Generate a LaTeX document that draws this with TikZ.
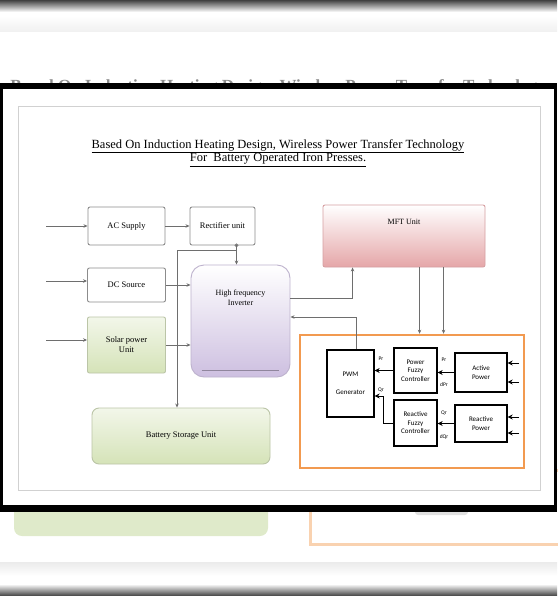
\documentclass[tikz,border=0pt]{standalone}
\usepackage{fontspec}
\setmainfont{Liberation Serif}
\newfontfamily\ctrlfont{Carlito}
\usetikzlibrary{positioning, arrows.meta, shapes.geometric}

\definecolor{linegray}{HTML}{6E6E6E}
\definecolor{boxgray}{HTML}{8C8C8C}
\definecolor{solargreen}{HTML}{D5E3B8}
\definecolor{invlilac}{HTML}{CDBFE0}
\definecolor{mftrose}{HTML}{E5A6A8}
\definecolor{ctrlorange}{HTML}{F29A50}

\tikzset{
  unit/.style={draw=boxgray, line width=0.9pt, rounded corners=2pt, fill=white,
    font=\fontsize{8.5}{10}\selectfont, align=center, inner sep=1pt},
  greenunit/.style={unit, draw=solargreen!70!gray, top color=solargreen!30, bottom color=solargreen},
  ctrl/.style={draw=black, line width=1.3pt, fill=white, font=\ctrlfont\fontsize{7}{8.5}\selectfont,
    align=center, inner sep=1pt},
  sig/.style={font=\ctrlfont\fontsize{5.5}{6.5}\selectfont, inner sep=0.5pt},
  wire/.style={draw=linegray, line width=0.8pt, -{Stealth[length=4pt,width=3.5pt]}},
  cwire/.style={draw=black, line width=1pt, -{Stealth[length=5pt,width=5pt]}},
}

\begin{document}
\begin{tikzpicture}[x=1pt, y=-1pt]
  \useasboundingbox (0,0) rectangle (557,596);

  % blurred page behind the frame
  \fill[top color=black!75, bottom color=white] (0,0) rectangle (557,12);
  \fill[top color=white, bottom color=black!6] (0,16) rectangle (557,32);
  \node[anchor=base, text=black!45, font=\fontsize{17}{20}\selectfont\bfseries] (ghosttitle) at (278,92)
    {Based On Induction Heating Design, Wireless Power Transfer Technology};
  \fill[rounded corners=8pt, solargreen!75] (14,490) rectangle (268,536);
  \draw[ctrlorange!45, line width=3pt] (310,470) rectangle (600,544);
  \fill[black!12, rounded corners=3pt] (415,508) rectangle (468,515);
  \fill[top color=black!8, bottom color=white] (0,562) rectangle (557,576);
  \fill[top color=white, bottom color=black!75] (0,584) rectangle (557,596);

  % frame
  \fill[black] (0,83) rectangle (557,512);
  \fill[white] (3,89) rectangle (554,505);
  \draw[black!18, line width=0.8pt] (18,106) rectangle (540,490);

  \node[align=center, font=\fontsize{12.5}{13.5}\selectfont] (title) at (278,153)
    {\underline{Based On Induction Heating Design, Wireless Power Transfer Technology}\\
     \underline{For\ \ Battery Operated Iron Presses.}};

  % supply side
  \node[unit, minimum width=77pt, minimum height=38pt] (ac) at (126.5,226) {AC Supply};
  \node[unit, minimum width=65pt, minimum height=38pt] (rect) at (222.5,226) {Rectifier unit};
  \node[unit, minimum width=78pt, minimum height=34pt] (dc) at (126.5,285) {DC Source};
  \node[greenunit, minimum width=78pt, minimum height=56pt] (solar) at (126.5,345) {Solar power\\Unit};
  \node[greenunit, rounded corners=7pt, minimum width=178pt, minimum height=56pt] (bat) at (181,436) {Battery Storage Unit};

  \node[draw=invlilac!80!gray, line width=0.9pt, rounded corners=13pt, top color=white, bottom color=invlilac,
    minimum width=99pt, minimum height=112pt] (inv) at (240.5,321) {};
  \node[font=\fontsize{8}{10}\selectfont, align=center] (invtxt) at (240.5,298) {High frequency\\Inverter};
  \draw[invlilac!70!black, line width=1pt] ([xshift=11pt,yshift=7pt]inv.south west) -- ([xshift=-11pt,yshift=7pt]inv.south east);

  \node[draw=mftrose!85!gray, line width=0.9pt, rounded corners=2pt, top color=white, bottom color=mftrose,
    minimum width=162pt, minimum height=62pt] (mft) at (404,236) {};
  \node[font=\fontsize{8}{10}\selectfont] (mfttxt) at (404,222) {MFT Unit};

  % control box
  \node[draw=ctrlorange, line width=2.5pt, minimum width=224pt, minimum height=133pt] (ctrlbox) at (412,401.5) {};
  \node[ctrl, minimum width=47pt, minimum height=67pt] (pwm) at (350.5,383.5) {PWM\\[9pt]Generator};
  \node[ctrl, minimum width=43pt, minimum height=45pt] (pfc) at (415.5,370.5) {Power\\Fuzzy\\Controller};
  \node[ctrl, minimum width=43pt, minimum height=46pt] (rfc) at (415.5,423) {Reactive\\Fuzzy\\Controller};
  \node[ctrl, minimum width=52pt, minimum height=39pt] (act) at (481,372.5) {Active\\Power};
  \node[ctrl, minimum width=52pt, minimum height=37pt] (react) at (481,423.5) {Reactive\\Power};

  \node[sig] (pref) at (381,359) {Pr};
  \node[sig] (qref) at (381,390) {Qr};
  \node[sig] (pin) at (444,360) {Pr};
  \node[sig] (dpin) at (444,385) {dPr};
  \node[sig] (qin) at (444,413) {Qr};
  \node[sig] (dqin) at (444,437) {dQr};

  % inputs
  \coordinate (acin) at (46,226);
  \coordinate (dcin) at (46,281);
  \coordinate (solin) at (46,340);
  \draw[wire] (acin) -- (acin -| ac.west);
  \draw[wire] (dcin) -- (dcin -| dc.west);
  \draw[wire] (solin) -- (solin -| solar.west);

  \draw[wire] (ac) -- (rect);
  \draw[wire] (dc.east) -- (dc.east -| inv.west);
  \draw[wire] (solar.east) -- (solar.east -| inv.west);

  \coordinate (split) at ([xshift=14pt]rect.south);
  \coordinate (bus) at (177,250);
  \draw[linegray, line width=0.6pt] (split) circle (1.6pt);
  \draw[wire] (split) -- (split |- inv.north);
  \draw[wire] (split |- bus) -- (bus) -- (bus |- bat.north);

  \draw[wire] ([yshift=23pt]inv.east) -| ([xshift=30pt]mft.south west);
  \draw[wire] ([xshift=6pt]pwm.north) |- ([yshift=4pt]inv.east);
  \draw[wire] ([xshift=97pt]mft.south west) -- ([xshift=97pt]mft.south west |- ctrlbox.north);
  \draw[wire] ([xshift=121pt]mft.south west) -- ([xshift=121pt]mft.south west |- ctrlbox.north);

  \draw[cwire] (pfc.west) -- (pfc.west -| pwm.east);
  \draw[cwire] (rfc.west) -- ++(-10,0) |- ([yshift=-12.5pt]pwm.east);
  \draw[cwire] (act.west) -- (act.west -| pfc.east);
  \draw[cwire] (react.west) -- (react.west -| rfc.east);

  \foreach \y [count=\i] in {363,382}{
    \coordinate (ain\i) at (519,\y);
    \draw[cwire] (ain\i) -- (ain\i -| act.east);
  }
  \foreach \y [count=\i] in {417,433}{
    \coordinate (rin\i) at (519,\y);
    \draw[cwire] (rin\i) -- (rin\i -| react.east);
  }
\end{tikzpicture}
\end{document}
